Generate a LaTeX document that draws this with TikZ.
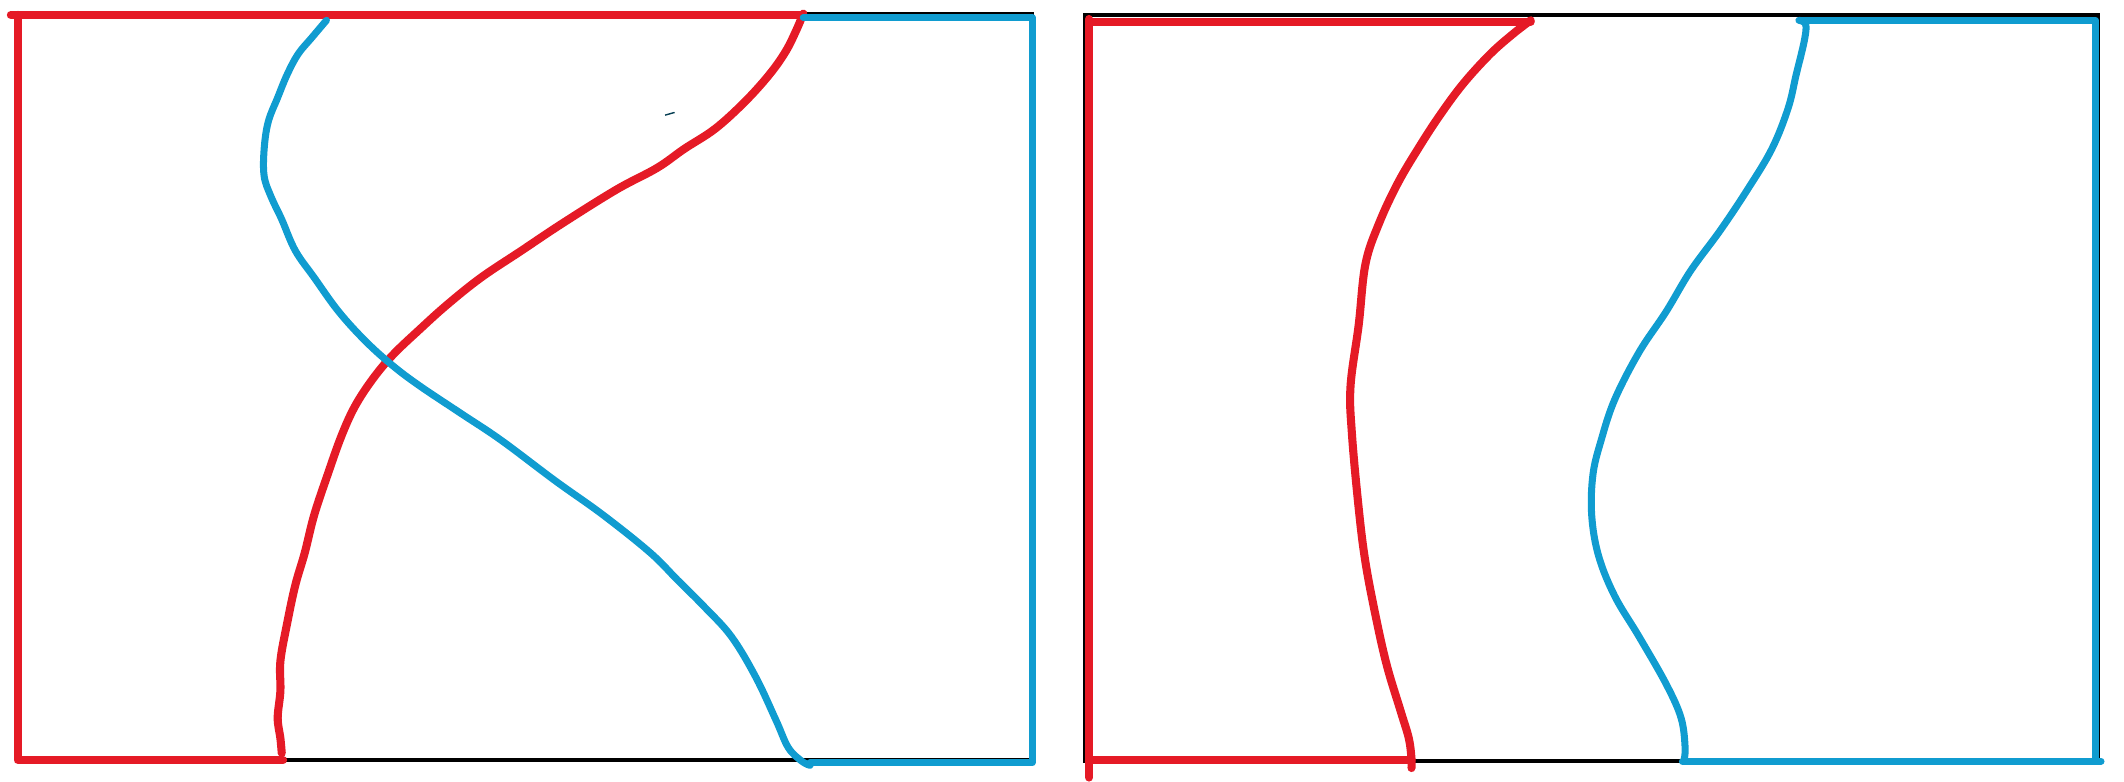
\documentclass[tikz,border=0pt]{standalone}
\definecolor{penred}{RGB}{229,26,38}
\definecolor{penblue}{RGB}{16,156,208}
\begin{document}
\begin{tikzpicture}[x={0.013546cm}, y={-0.013546cm},
    frame/.style={black, line width=1.1pt},
    redline/.style={penred, line width=2.3pt, line cap=round, line join=round},
    blueline/.style={penblue, line width=2pt, line cap=round, line join=round}]
    \useasboundingbox (0,0) rectangle (1568,577);
    % frames
    \draw[frame] (13,10) rectangle (762,561);
    \draw[frame] (801,11) rectangle (1549,562);
    % left panel
    \draw[redline] (8,11) -- (593,11);
    \draw[redline] (13,11) -- (13,561) -- (209,561);
    \draw[redline] plot[smooth, tension=0.6] coordinates {(208,556) (207,545) (205,530) (207,510) (207,488)
        (212,460) (218,432) (225,408) (232,380) (242,350) (252,322) (262,300) (275,280) (290,262)
        (310,243) (330,225) (355,205) (385,185) (415,165) (455,140) (485,124) (505,110) (528,95)
        (550,75) (568,55) (580,38) (588,22) (593,10)};
    \draw[blueline] (593,13) -- (762,13) -- (762,563) -- (598,563);
    \draw[blueline] plot[smooth, tension=0.6] coordinates {(241,15) (230,28) (220,40) (212,55) (205,72)
        (198,90) (195,110) (195,130) (200,145) (208,162) (218,185) (232,205) (250,230) (270,252)
        (290,270) (310,285) (340,305) (370,325) (410,355) (445,380) (480,408) (500,428) (520,448)
        (540,470) (558,500) (573,532) (582,552) (592,562) (598,565)};
    \draw[penblue!40!black, line width=0.4pt] (491,85) -- (498,83);
    % right panel
    \draw[redline] (804,16) -- (1130,16);
    \draw[redline] (804,14) -- (804,574);
    \draw[redline] (804,561) -- (1042,561);
    \draw[redline] plot[smooth, tension=0.6] coordinates {(1130,15) (1117,25) (1100,40) (1080,62)
        (1063,85) (1048,108) (1032,135) (1018,165) (1008,195) (1003,240) (997,285) (998,320)
        (1003,375) (1008,415) (1016,457) (1024,492) (1034,525) (1040,545) (1042,560) (1042,567)};
    \draw[blueline] (1330,15) -- (1547,15) -- (1547,562);
    \draw[blueline] (1242,562) -- (1551,562);
    \draw[blueline] plot[smooth, tension=0.6] coordinates {(1328,15) (1333,18) (1332,30) (1326,55)
        (1320,80) (1308,110) (1290,140) (1270,170) (1248,200) (1230,230) (1210,260) (1192,295)
        (1182,325) (1176,350) (1175,380) (1180,410) (1192,440) (1210,470) (1230,505) (1241,530)
        (1244,552) (1243,562)};
\end{tikzpicture}
\end{document}
